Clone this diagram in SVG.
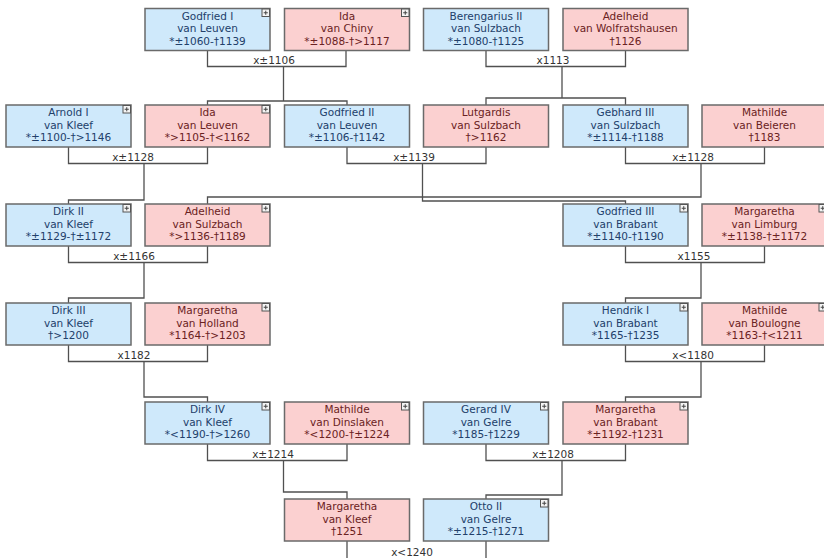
<svg xmlns="http://www.w3.org/2000/svg" xmlns:xlink="http://www.w3.org/1999/xlink" width="824" height="558" viewBox="0 0 824 558">
<style>
.m{fill:#cfe9fb;stroke:#6a6a6a;stroke-width:1.5}
.f{fill:#fbd0d0;stroke:#6a6a6a;stroke-width:1.5}
text{font-family:"DejaVu Sans","Liberation Sans",sans-serif;font-size:10.5px;text-anchor:middle}
.tm{fill:#22406a}
.tf{fill:#6a2222}
.lbl{fill:#333;font-size:10.5px}
.c{fill:none;stroke:#505050;stroke-width:1.3}
</style>
<defs>
<g id="ic">
<rect x="0.5" y="0.5" width="7.5" height="7.5" fill="#f4f4f4" stroke="#555" stroke-width="1"/>
<path d="M2.2 4.25H6.3M4.25 2.2V6.3" stroke="#444" stroke-width="1"/>
</g>
</defs>
<rect width="824" height="558" fill="#fff"/>
<g id="connectors" class="c">
<path d="M207.5 50.5V66.5H346V50.5M283.5 66.5V101H207.5V105M283.5 101H347V105"/>
<path d="M486 50.5V66.5H625.5V50.5M562 66.5V98H486V105M562 98H625.5V105"/>
<path d="M68.5 147V163.5H207.5V147M144 163.5V200H68.5V204"/>
<path d="M347 147V163.5H486V147M422.5 163.5V201H625.5V204"/>
<path d="M625.5 147V163.5H764.5V147M701 163.5V197H207.5V204"/>
<path d="M68.5 246V262.5H207.5V246M144 262.5V298H68.5V303"/>
<path d="M625.5 246V262.5H764.5V246M701 262.5V298H625.5V303"/>
<path d="M68.5 345V361.5H207.5V345M144 361.5V397H207.5V402"/>
<path d="M625.5 345V361.5H764.5V345M701 361.5V397H625.5V402"/>
<path d="M207.5 444V460.5H347V444M283.5 460.5V492H347V499"/>
<path d="M486 444V460.5H625.5V444M562 460.5V495H486V499"/>
<path d="M347 541V560H486V541"/>
</g>
<g id="couple-labels">
<text class="lbl" x="274" y="63.5">x±1106</text>
<text class="lbl" x="553" y="63.5">x1113</text>
<text class="lbl" x="133" y="160.5">x±1128</text>
<text class="lbl" x="414" y="160.5">x±1139</text>
<text class="lbl" x="693" y="160.5">x±1128</text>
<text class="lbl" x="134" y="259.5">x±1166</text>
<text class="lbl" x="694" y="259.5">x1155</text>
<text class="lbl" x="134" y="358.5">x1182</text>
<text class="lbl" x="693" y="358.5">x&lt;1180</text>
<text class="lbl" x="273" y="457.5">x±1214</text>
<text class="lbl" x="553" y="457.5">x±1208</text>
<text class="lbl" x="412" y="556">x&lt;1240</text>
</g>
<g id="n-godfried-i" transform="translate(145,8.5)"><rect class="m" width="125" height="42"/><text class="tm" x="62.5" y="11">Godfried I</text><text class="tm" x="62.5" y="23.5">van Leuven</text><text class="tm" x="62.5" y="36">*±1060-†1139</text><use href="#ic" x="116.5" y="0"/></g>
<g id="n-ida-chiny" transform="translate(284.5,8.5)"><rect class="f" width="125" height="42"/><text class="tf" x="62.5" y="11">Ida</text><text class="tf" x="62.5" y="23.5">van Chiny</text><text class="tf" x="62.5" y="36">*±1088-†&gt;1117</text><use href="#ic" x="116.5" y="0"/></g>
<g id="n-berengarius-ii" transform="translate(423.5,8.5)"><rect class="m" width="125" height="42"/><text class="tm" x="62.5" y="11">Berengarius II</text><text class="tm" x="62.5" y="23.5">van Sulzbach</text><text class="tm" x="62.5" y="36">*±1080-†1125</text></g>
<g id="n-adelheid-wolfratshausen" transform="translate(563,8.5)"><rect class="f" width="125" height="42"/><text class="tf" x="62.5" y="11">Adelheid</text><text class="tf" x="62.5" y="23.5">van Wolfratshausen</text><text class="tf" x="62.5" y="36">†1126</text></g>
<g id="n-arnold-i" transform="translate(6,105)"><rect class="m" width="125" height="42"/><text class="tm" x="62.5" y="11">Arnold I</text><text class="tm" x="62.5" y="23.5">van Kleef</text><text class="tm" x="62.5" y="36">*±1100-†&gt;1146</text><use href="#ic" x="116.5" y="0"/></g>
<g id="n-ida-leuven" transform="translate(145,105)"><rect class="f" width="125" height="42"/><text class="tf" x="62.5" y="11">Ida</text><text class="tf" x="62.5" y="23.5">van Leuven</text><text class="tf" x="62.5" y="36">*&gt;1105-†&lt;1162</text><use href="#ic" x="116.5" y="0"/></g>
<g id="n-godfried-ii" transform="translate(284.5,105)"><rect class="m" width="125" height="42"/><text class="tm" x="62.5" y="11">Godfried II</text><text class="tm" x="62.5" y="23.5">van Leuven</text><text class="tm" x="62.5" y="36">*±1106-†1142</text></g>
<g id="n-lutgardis" transform="translate(423.5,105)"><rect class="f" width="125" height="42"/><text class="tf" x="62.5" y="11">Lutgardis</text><text class="tf" x="62.5" y="23.5">van Sulzbach</text><text class="tf" x="62.5" y="36">†&gt;1162</text></g>
<g id="n-gebhard-iii" transform="translate(563,105)"><rect class="m" width="125" height="42"/><text class="tm" x="62.5" y="11">Gebhard III</text><text class="tm" x="62.5" y="23.5">van Sulzbach</text><text class="tm" x="62.5" y="36">*±1114-†1188</text></g>
<g id="n-mathilde-beieren" transform="translate(702,105)"><rect class="f" width="125" height="42"/><text class="tf" x="62.5" y="11">Mathilde</text><text class="tf" x="62.5" y="23.5">van Beieren</text><text class="tf" x="62.5" y="36">†1183</text></g>
<g id="n-dirk-ii" transform="translate(6,204)"><rect class="m" width="125" height="42"/><text class="tm" x="62.5" y="11">Dirk II</text><text class="tm" x="62.5" y="23.5">van Kleef</text><text class="tm" x="62.5" y="36">*±1129-†±1172</text><use href="#ic" x="116.5" y="0"/></g>
<g id="n-adelheid-sulzbach" transform="translate(145,204)"><rect class="f" width="125" height="42"/><text class="tf" x="62.5" y="11">Adelheid</text><text class="tf" x="62.5" y="23.5">van Sulzbach</text><text class="tf" x="62.5" y="36">*&gt;1136-†1189</text><use href="#ic" x="116.5" y="0"/></g>
<g id="n-godfried-iii" transform="translate(563,204)"><rect class="m" width="125" height="42"/><text class="tm" x="62.5" y="11">Godfried III</text><text class="tm" x="62.5" y="23.5">van Brabant</text><text class="tm" x="62.5" y="36">*±1140-†1190</text><use href="#ic" x="116.5" y="0"/></g>
<g id="n-margaretha-limburg" transform="translate(702,204)"><rect class="f" width="125" height="42"/><text class="tf" x="62.5" y="11">Margaretha</text><text class="tf" x="62.5" y="23.5">van Limburg</text><text class="tf" x="62.5" y="36">*±1138-†±1172</text><use href="#ic" x="116.5" y="0"/></g>
<g id="n-dirk-iii" transform="translate(6,303)"><rect class="m" width="125" height="42"/><text class="tm" x="62.5" y="11">Dirk III</text><text class="tm" x="62.5" y="23.5">van Kleef</text><text class="tm" x="62.5" y="36">†&gt;1200</text></g>
<g id="n-margaretha-holland" transform="translate(145,303)"><rect class="f" width="125" height="42"/><text class="tf" x="62.5" y="11">Margaretha</text><text class="tf" x="62.5" y="23.5">van Holland</text><text class="tf" x="62.5" y="36">*1164-†&gt;1203</text><use href="#ic" x="116.5" y="0"/></g>
<g id="n-hendrik-i" transform="translate(563,303)"><rect class="m" width="125" height="42"/><text class="tm" x="62.5" y="11">Hendrik I</text><text class="tm" x="62.5" y="23.5">van Brabant</text><text class="tm" x="62.5" y="36">*1165-†1235</text><use href="#ic" x="116.5" y="0"/></g>
<g id="n-mathilde-boulogne" transform="translate(702,303)"><rect class="f" width="125" height="42"/><text class="tf" x="62.5" y="11">Mathilde</text><text class="tf" x="62.5" y="23.5">van Boulogne</text><text class="tf" x="62.5" y="36">*1163-†&lt;1211</text><use href="#ic" x="116.5" y="0"/></g>
<g id="n-dirk-iv" transform="translate(145,402)"><rect class="m" width="125" height="42"/><text class="tm" x="62.5" y="11">Dirk IV</text><text class="tm" x="62.5" y="23.5">van Kleef</text><text class="tm" x="62.5" y="36">*&lt;1190-†&gt;1260</text><use href="#ic" x="116.5" y="0"/></g>
<g id="n-mathilde-dinslaken" transform="translate(284.5,402)"><rect class="f" width="125" height="42"/><text class="tf" x="62.5" y="11">Mathilde</text><text class="tf" x="62.5" y="23.5">van Dinslaken</text><text class="tf" x="62.5" y="36">*&lt;1200-†±1224</text><use href="#ic" x="116.5" y="0"/></g>
<g id="n-gerard-iv" transform="translate(423.5,402)"><rect class="m" width="125" height="42"/><text class="tm" x="62.5" y="11">Gerard IV</text><text class="tm" x="62.5" y="23.5">van Gelre</text><text class="tm" x="62.5" y="36">*1185-†1229</text><use href="#ic" x="116.5" y="0"/></g>
<g id="n-margaretha-brabant" transform="translate(563,402)"><rect class="f" width="125" height="42"/><text class="tf" x="62.5" y="11">Margaretha</text><text class="tf" x="62.5" y="23.5">van Brabant</text><text class="tf" x="62.5" y="36">*±1192-†1231</text><use href="#ic" x="116.5" y="0"/></g>
<g id="n-margaretha-kleef" transform="translate(284.5,499)"><rect class="f" width="125" height="42"/><text class="tf" x="62.5" y="11">Margaretha</text><text class="tf" x="62.5" y="23.5">van Kleef</text><text class="tf" x="62.5" y="36">†1251</text></g>
<g id="n-otto-ii" transform="translate(423.5,499)"><rect class="m" width="125" height="42"/><text class="tm" x="62.5" y="11">Otto II</text><text class="tm" x="62.5" y="23.5">van Gelre</text><text class="tm" x="62.5" y="36">*±1215-†1271</text><use href="#ic" x="116.5" y="0"/></g>
</svg>
